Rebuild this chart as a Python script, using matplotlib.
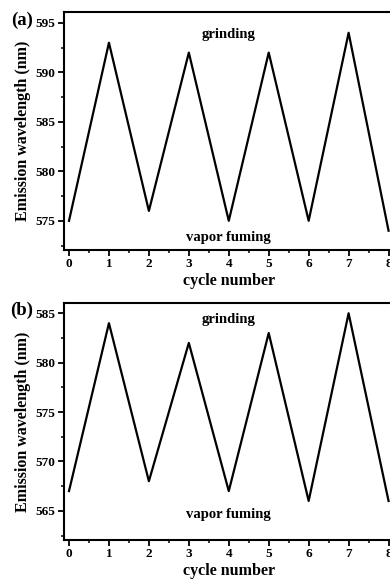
import matplotlib
matplotlib.use('Agg')
import matplotlib.pyplot as plt
from matplotlib.ticker import MultipleLocator

# Data
cycles = [0, 1, 2, 3, 4, 5, 6, 7, 8]
wavelength_a = [575, 593, 576, 592, 575, 592, 575, 594, 574]
wavelength_b = [567, 584, 568, 582, 567, 583, 566, 585, 566]

plt.rcParams['font.family'] = ['Liberation Serif', 'DejaVu Serif']
plt.rcParams['font.weight'] = 'bold'

fig = plt.figure(figsize=(3.9, 5.81), dpi=100)

panels = [
    # data, ylim, yticks, label, axes rect, grinding y, fuming y
    (wavelength_a, (572.05, 596.1), [575, 580, 585, 590, 595], '(a)',
     [0.1641, 0.5697, 0.845, 0.4096], 593.8, 573.3),
    (wavelength_b, (562.05, 586.07), [565, 570, 575, 580, 585], '(b)',
     [0.1641, 0.0706, 0.845, 0.4084], 584.4, 564.6),
]

for data, ylim, yticks, tag, rect, y_grind, y_fume in panels:
    ax = fig.add_axes(rect)
    ax.plot(cycles, data, color='black', lw=1.6)
    ax.set_xlim(-0.125, 8.125)
    ax.set_ylim(*ylim)
    ax.set_xticks(cycles)
    ax.set_yticks(yticks)
    ax.xaxis.set_minor_locator(MultipleLocator(0.5))
    ax.yaxis.set_minor_locator(MultipleLocator(2.5))
    ax.tick_params(which='major', direction='out', length=4, width=1.3, labelsize=9.5, pad=2)
    ax.tick_params(which='minor', direction='out', length=2.5, width=1.1)
    for s in ax.spines.values():
        s.set_linewidth(1.5)
    ax.set_xlabel('cycle number', fontsize=11.5, fontweight='bold', labelpad=2)
    ax.set_ylabel('Emission wavelength (nm)', fontsize=11.5, fontweight='bold', labelpad=3)
    ax.text(4, y_grind, 'grinding', ha='center', va='center', fontsize=10.5, fontweight='bold')
    ax.text(4, y_fume, 'vapor fuming', ha='center', va='center', fontsize=10.5, fontweight='bold')
    ax.text(-0.094, 0.967, tag, transform=ax.transAxes, ha='right', va='center',
            fontsize=13.5, fontweight='bold')

fig.savefig('out.png', dpi=100)
